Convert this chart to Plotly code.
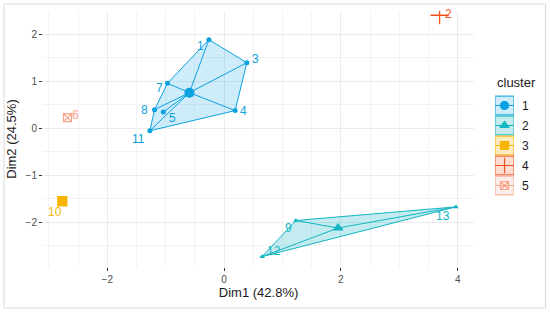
import plotly.graph_objects as go

# individual coordinates
labels = ["1", "2", "3", "4", "5", "6", "7", "8", "9", "10", "11", "12", "13"]
dim1 = [-0.26, 3.69, 0.39, 0.19, -1.04, -2.68, -0.97, -1.19, 1.23, -2.77, -1.27, 0.65, 3.97]
dim2 = [1.89, 2.41, 1.40, 0.38, 0.35, 0.23, 0.96, 0.40, -1.96, -1.55, -0.05, -2.73, -1.67]
cluster = [1, 4, 1, 1, 1, 5, 1, 1, 2, 3, 1, 2, 2]
clusters = [1, 2, 3, 4, 5]

# label nudges in pixels (repel-style placement), dx right, dy down
label_nudge = {"1": (-8, 6), "2": (9, -1), "3": (9, -4), "4": (8, 0), "5": (9, 6),
               "6": (8, -3), "7": (-8, 5), "8": (-10, 0), "9": (-7, 7), "10": (-7, 11),
               "11": (-11, 8), "12": (12, -6), "13": (-13, 9)}

colors = {1: "#0AA2E0", 2: "#12B5C2", 3: "#F7B500", 4: "#F4511E", 5: "#F6A68C"}
fills = {1: "rgba(10,162,224,0.2)", 2: "rgba(18,181,194,0.25)", 3: "rgba(247,181,0,0.25)",
         4: "rgba(244,81,30,0.2)", 5: "rgba(246,166,140,0.2)"}
symbols = {1: "circle", 2: "triangle-up", 3: "square", 4: "cross-thin-open", 5: "square-x-open"}
single_size = {3: 9, 4: 13, 5: 8}
# convex hull order per cluster (point labels)
hulls = {1: ["1", "3", "4", "11", "8", "7"], 2: ["9", "13", "12"]}

idx = {l: i for i, l in enumerate(labels)}
fig = go.Figure()
annots = []

for c in clusters:
    pts = [i for i in range(len(labels)) if cluster[i] == c]
    cx = sum(dim1[i] for i in pts) / len(pts)
    cy = sum(dim2[i] for i in pts) / len(pts)
    single = len(pts) == 1
    if not single:
        h = hulls[c] + [hulls[c][0]]
        fig.add_trace(go.Scatter(
            x=[dim1[idx[l]] for l in h], y=[dim2[idx[l]] for l in h], mode="lines",
            fill="toself", fillcolor=fills[c], line=dict(color=colors[c], width=1),
            showlegend=False, hoverinfo="skip"))
        sx, sy = [], []
        for i in pts:
            sx += [cx, dim1[i], None]
            sy += [cy, dim2[i], None]
        fig.add_trace(go.Scatter(x=sx, y=sy, mode="lines", line=dict(color=colors[c], width=1),
                                 showlegend=False, hoverinfo="skip"))
    fig.add_trace(go.Scatter(
        x=[dim1[i] for i in pts], y=[dim2[i] for i in pts], mode="markers",
        marker=dict(symbol=symbols[c], color=colors[c], size=single_size.get(c, 5),
                    line=dict(color=colors[c], width=1.3 if single else 0)),
        showlegend=False))
    if not single:
        fig.add_trace(go.Scatter(
            x=[cx], y=[cy], mode="markers",
            marker=dict(symbol=symbols[c], color=colors[c], size=10),
            showlegend=False))
    for i in pts:
        dx, dy = label_nudge[labels[i]]
        annots.append(dict(x=dim1[i], y=dim2[i], xref="x", yref="y", text=labels[i],
                           showarrow=False, xshift=dx, yshift=-dy,
                           font=dict(color=colors[c], size=12, family="Liberation Sans, Arial")))

# legend drawn in its own small axis pair so that keys look like ggplot keys
for c in clusters:
    fig.add_trace(go.Scatter(x=[0, 1], y=[c, c], mode="lines", line=dict(color=colors[c], width=1),
                             xaxis="x2", yaxis="y2", showlegend=False, hoverinfo="skip"))
    fig.add_trace(go.Scatter(x=[0.5], y=[c], mode="markers", xaxis="x2", yaxis="y2",
                             marker=dict(symbol=symbols[c], color=colors[c], size=8 if c != 4 else 11,
                                         line=dict(color=colors[c], width=1.2)),
                             showlegend=False, hoverinfo="skip"))
    fig.add_shape(type="rect", xref="x2", yref="y2", x0=0, x1=1, y0=c - 0.47, y1=c + 0.47,
                  fillcolor=fills[c], line=dict(color=colors[c], width=1), layer="below")
    annots.append(dict(x=1, y=c, xref="x2", yref="y2", text=str(c), showarrow=False,
                       xanchor="left", xshift=6, font=dict(size=12, color="#1A1A1A")))
annots.append(dict(x=0, y=-0.15, xref="x2", yref="y2", text="cluster", showarrow=False,
                   xanchor="left", yanchor="middle", font=dict(size=13, color="#1A1A1A")))

axis_common = dict(
    showline=False, zeroline=False, ticks="outside", ticklen=3, tickcolor="#333333",
    tickfont=dict(size=10, color="#4D4D4D"), gridcolor="#EBEBEB", gridwidth=1,
    minor=dict(showgrid=True, gridcolor="#F3F3F3", gridwidth=0.6, ticks=""),
    title_font=dict(size=13, color="#1A1A1A"), automargin=False,
)

fig.update_layout(
    xaxis=dict(domain=[0, 0.857], range=[-3.10, 4.28], dtick=2, tick0=0,
               title=dict(text="Dim1 (42.8%)", standoff=2),
               **axis_common),
    yaxis=dict(range=[-2.95, 2.50], dtick=1, tick0=0,
               title=dict(text="Dim2 (24.5%)", standoff=6), **axis_common),
    xaxis2=dict(domain=[0.8986, 0.9364], range=[0, 1], visible=False, fixedrange=True),
    yaxis2=dict(anchor="x2", range=[9.075, -3.725], visible=False, fixedrange=True),
)
fig.update_xaxes(minor_dtick=1, minor_tick0=1, selector=dict(anchor="y"))
fig.update_layout(yaxis_minor_dtick=0.5, yaxis_minor_tick0=0.5)

fig.add_shape(type="rect", xref="paper", yref="paper", x0=-0.0775, x1=0.999, y0=-0.16, y1=1.027,
              line=dict(color="#D9D9D9", width=1))

fig.update_layout(
    width=550, height=313, template="plotly_white",
    plot_bgcolor="white", paper_bgcolor="white",
    margin=dict(l=43, r=4, t=11, b=46),
    font=dict(family="Liberation Sans, Arial", color="#1A1A1A"),
    showlegend=False, annotations=annots,
)

# the page body has a default 8px margin; remove it so the figure fills the window
fig.write_html("out.html", config={"displayModeBar": False},
               post_script="document.body.style.margin='0';document.body.style.overflow='hidden';")
